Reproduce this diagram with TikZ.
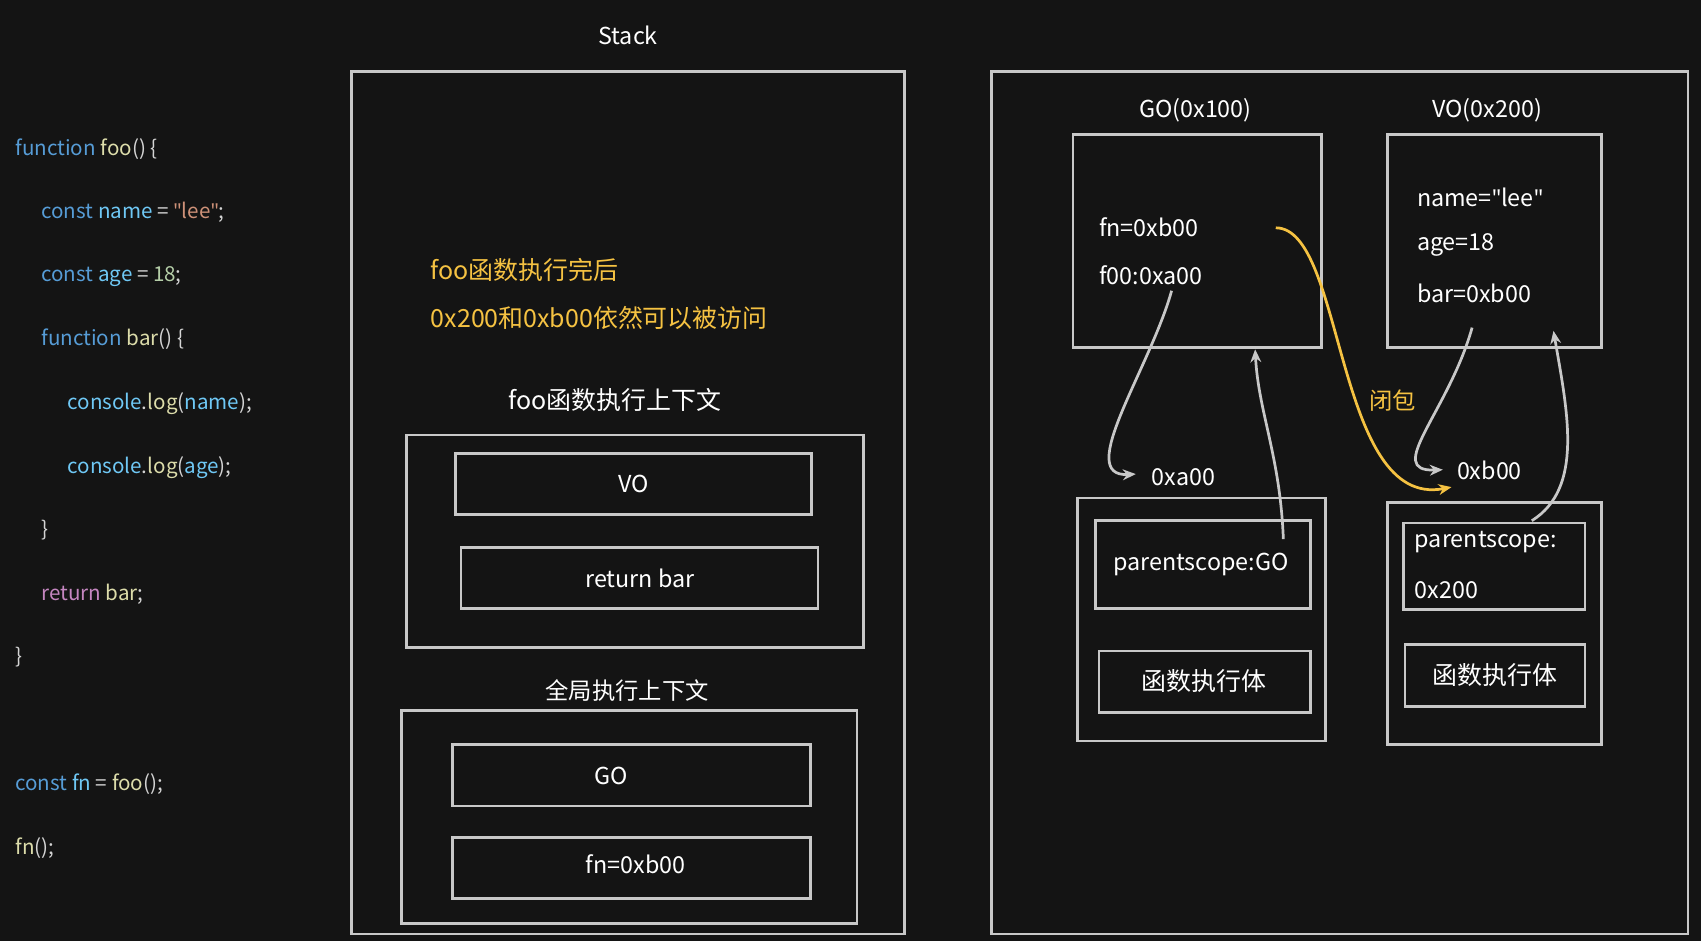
\documentclass[tikz,border=0pt]{standalone}
\usepackage{fontspec}
\setmainfont{Noto Sans CJK SC}
\newfontfamily\codefont{Noto Sans CJK SC}
\newfontfamily\lat{Noto Sans}
\newcommand{\dq}{{\lat"}}
\usetikzlibrary{arrows.meta}
\definecolor{bg}{HTML}{141414}
\definecolor{ln}{HTML}{C8C8C8}
\definecolor{yl}{HTML}{F5C242}
\definecolor{kw}{HTML}{569CD6}
\definecolor{vr}{HTML}{6FC8F5}
\definecolor{fnc}{HTML}{DCDCAA}
\definecolor{st}{HTML}{CE9178}
\definecolor{nm}{HTML}{B5CEA8}
\definecolor{rt}{HTML}{C586C0}
\definecolor{pu}{HTML}{D4D4D4}
\begin{document}
\begin{tikzpicture}[x=1pt,y=-1pt,
  box/.style={draw=ln,line width=2.5pt},
  lbl/.style={text=white,font=\fontsize{21.5}{26}\selectfont,inner sep=0pt},
  code/.style={anchor=west,inner sep=0pt,text=pu,font=\codefont\fontsize{19}{23}\selectfont},
  arr/.style={ln,line width=2.5pt,-{Stealth[length=12pt,width=10pt]}}]
\fill[bg] (0,0) rectangle (1568,867);
\useasboundingbox (0,0) rectangle (1568,867);
% code
\node[code] (c1) at (14,137) {\textcolor{kw}{function} \textcolor{fnc}{foo}() \{};
\node[code] (c2) at (38,196) {\textcolor{kw}{const} \textcolor{vr}{name} = \textcolor{st}{\dq lee\dq};};
\node[code] (c3) at (38,255) {\textcolor{kw}{const} \textcolor{vr}{age} = \textcolor{nm}{18};};
\node[code] (c4) at (38,313) {\textcolor{kw}{function} \textcolor{fnc}{bar}() \{};
\node[code] (c5) at (62,372) {\textcolor{vr}{console}.\textcolor{fnc}{log}(\textcolor{vr}{name});};
\node[code] (c6) at (62,431) {\textcolor{vr}{console}.\textcolor{fnc}{log}(\textcolor{vr}{age});};
\node[code] (c7) at (38,489) {\}};
\node[code] (c8) at (38,548) {\textcolor{rt}{return} \textcolor{fnc}{bar};};
\node[code] (c9) at (14,606) {\}};
\node[code] (c10) at (14,723) {\textcolor{kw}{const} \textcolor{vr}{fn} = \textcolor{fnc}{foo}();};
\node[code] (c11) at (14,782) {\textcolor{fnc}{fn}();};
% stack
\node[lbl] (stk) at (579,33) {Stack};
\draw[box] (324,66) rectangle (834,861);
\node[lbl,anchor=west,text=yl,font=\fontsize{23}{27}\selectfont] (y1) at (397,249) {foo函数执行完后};
\node[lbl,anchor=west,text=yl,font=\fontsize{23}{27}\selectfont] (y2) at (397,293) {0x200和0xb00依然可以被访问};
\node[lbl,font=\fontsize{23}{27}\selectfont] (fooctx) at (567,369) {foo函数执行上下文};
\draw[box] (375,401) rectangle (796,597);
\draw[box] (420,418) rectangle (748,474); \node[lbl] (vo) at (584,446) {VO};
\draw[box] (425,505) rectangle (754,561); \node[lbl] (rb) at (590,533) {return bar};
\node[lbl] (gctx) at (578,637) {全局执行上下文};
\draw[box] (370,655) rectangle (790,851);
\draw[box] (417,686) rectangle (747,743); \node[lbl] (go) at (563,715) {GO};
\draw[box] (417,772) rectangle (747,828); \node[lbl] (fnb) at (586,797) {fn=0xb00};
% heap
\draw[box] (914,66) rectangle (1556,861);
\node[lbl] (gol) at (1102,102) {GO(0x100)};
\draw[box] (989,124) rectangle (1218,320);
\node[lbl,anchor=west] (gfn) at (1013,209) {fn=0xb00};
\node[lbl,anchor=west] (gf0) at (1013,254) {f00:0xa00};
\node[lbl] (vol) at (1371,102) {VO(0x200)};
\draw[box] (1279,124) rectangle (1476,320);
\node[lbl,anchor=west] (vn) at (1306,182) {name=\dq lee\dq};
\node[lbl,anchor=west] (va) at (1306,226) {age=18};
\node[lbl,anchor=west] (vb) at (1306,270) {bar=0xb00};
\node[lbl] (a00) at (1091,440) {0xa00};
\draw[box] (993,459) rectangle (1222,683);
\draw[box] (1010,480) rectangle (1208,561); \node[lbl] (psgo) at (1107,520) {parentscope:GO};
\draw[box] (1013,600) rectangle (1208,657); \node[lbl,font=\fontsize{23}{27}\selectfont] (body1) at (1110,628) {函数执行体};
\node[lbl] (b00) at (1373,434) {0xb00};
\draw[box] (1279,463) rectangle (1476,686);
\draw[box] (1294,482) rectangle (1461,562);
\node[lbl,anchor=west] (ps2) at (1304,500) {parentscope:};
\node[lbl,anchor=west] (ps2b) at (1304,544) {0x200};
\draw[box] (1295,594) rectangle (1461,651); \node[lbl,font=\fontsize{23}{27}\selectfont] (body2) at (1378,622) {函数执行体};
% arrows
\coordinate (p1) at (1080,268); \coordinate (q1) at (1047,437);
\draw[arr] (p1) .. controls (1060,340) and (990,440) .. (q1);
\coordinate (p2) at (1183,497); \coordinate (q2) at (1157,322);
\draw[arr] (p2) .. controls (1180,420) and (1160,380) .. (q2);
\coordinate (p3) at (1357,302); \coordinate (q3) at (1330,433);
\draw[arr] (p3) .. controls (1335,380) and (1275,435) .. (q3);
\coordinate (p4) at (1412,480); \coordinate (q4) at (1432,305);
\draw[arr] (p4) .. controls (1460,450) and (1445,380) .. (q4);
\coordinate (p5) at (1176,210); \coordinate (q5) at (1338,449);
\draw[arr,yl] (p5) .. controls (1240,210) and (1230,470) .. (q5);
\node[lbl,text=yl] (bb) at (1284,369) {闭包};
\end{tikzpicture}
\end{document}
